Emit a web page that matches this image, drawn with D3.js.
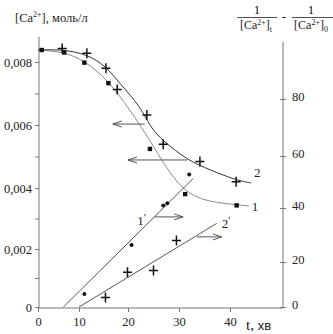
<!DOCTYPE html>
<html><head><meta charset="utf-8">
<script src="https://cdn.jsdelivr.net/npm/d3@7"></script>
<style>body{margin:0;background:#fff}svg{display:block}
.sf{font-family:'Liberation Serif','Times New Roman',serif}</style>
</head><body>
<svg id="c" width="333" height="334"></svg>
<script>
// ---- data ----
const tTicks = [0, 10, 20, 30, 40];
const cTicks = [0, 0.002, 0.004, 0.006, 0.008];
const cMinor = [0.001, 0.003, 0.005, 0.007];
const rTicks = [0, 20, 40, 60, 80];
// curve 1 ([Ca2+], squares)
const s1T = [0.9, 6.4, 11.1, 16.0, 24.3, 31.2, 41.3];
const s1C = [0.00838, 0.0083, 0.00798, 0.00733, 0.00524, 0.0038, 0.00343];
// curve 2 ([Ca2+], crosses)
const s2T = [5.9, 11.6, 15.5, 17.8, 23.7, 26.9, 34.1, 41.2];
const s2C = [0.00843, 0.00828, 0.0078, 0.00713, 0.00632, 0.00539, 0.00484, 0.0042];
// fitted curves
const f1T = [0, 6.3, 11.0, 15.9, 20.4, 24.3, 27.3, 30.6, 33.5, 37.0, 43.7];
const f1C = [0.00838, 0.00832, 0.00806, 0.00743, 0.00648, 0.00552, 0.00468, 0.00398, 0.00368, 0.00352, 0.00341];
const f2T = [0, 5.85, 11.6, 15.5, 18.4, 22.4, 24.3, 26.9, 31.6, 36.1, 41.2, 44.1];
const f2C = [0.00838, 0.0084, 0.00825, 0.00787, 0.0073, 0.0066, 0.00594, 0.00549, 0.00489, 0.00457, 0.00425, 0.00416];
// 1' (dots) and 2' (crosses): 1/[Ca]t - 1/[Ca]0
const p1T = [11.1, 20.7, 26.9, 27.7, 32.0];
const p1V = [5.8, 26.3, 41.0, 41.8, 52.9];
const p2T = [15.4, 19.9, 25.0, 29.5];
const p2V = [4.2, 15.4, 16.2, 28.0];
const l1T = [6.2, 32.8], l1V = [0, 51.4];
const l2T = [10, 37.4], l2V = [0, 34.3];

// ---- scales ----
const svg = d3.select('#c');
const x = d3.scaleLinear().domain([0, 10, 20, 30, 40]).range([38, 79, 128, 179, 230]);
const yL = d3.scaleLinear().domain([0, 0.002, 0.004, 0.006, 0.008]).range([307, 249, 188, 125, 62]);
const yR = d3.scaleLinear().domain([0, 20, 40, 60, 80]).range([307, 262, 208, 156, 99]);
const tEnd = 50.4, cTop = 0.0088, rTop = 100;
const axisCol = '#777';

// ---- axes ----
const gL = svg.append('g').attr('transform', `translate(${x(0) + 1},0)`);
gL.call(d3.axisLeft(yL).tickValues(cTicks).tickSize(4).tickPadding(3)
  .tickFormat(d => d === 0 ? '0' : d3.format('.3f')(d).replace('.', ',')));
gL.append('g').call(d3.axisLeft(yL).tickValues(cMinor).tickSize(4).tickFormat(''));
gL.selectAll('.domain').remove();
gL.append('line').attr('y1', yL(cTop)).attr('y2', yL(0) + 1).attr('stroke', axisCol);

const gB = svg.append('g').attr('transform', `translate(0,${yL(0) + 1})`);
gB.call(d3.axisBottom(x).tickValues(tTicks).tickSize(4).tickPadding(5));
gB.select('.domain').remove();
gB.append('line').attr('x1', x(0) + 1).attr('x2', x(tEnd)).attr('stroke', axisCol);

const gR = svg.append('g').attr('transform', `translate(${x(tEnd)},0)`);
gR.call(d3.axisRight(yR).tickValues(rTicks).tickSize(3).tickPadding(6));
gR.append('g').call(d3.axisLeft(yR).tickValues(rTicks).tickSize(3).tickFormat(''));
gR.selectAll('.domain').remove();
gR.append('line').attr('y1', yR(rTop)).attr('y2', yR(0) + 1).attr('stroke', axisCol);

svg.selectAll('g').attr('font-family', null);
svg.selectAll('.tick line').attr('stroke', axisCol);
svg.selectAll('.tick text').attr('class', 'sf').attr('font-size', 12.5).attr('fill', '#222');
gR.selectAll('.tick text').attr('dy', '0.1em');

// ---- titles ----
const tl = svg.append('text').attr('class', 'sf').attr('x', 15).attr('y', 22).attr('font-size', 12.5).attr('fill', '#222');
tl.append('tspan').text('[Ca');
tl.append('tspan').text('2+').attr('font-size', 8).attr('dy', -5);
tl.append('tspan').text('], моль/л').attr('dy', 5);

function caLabel(cx, cy, sub) {
  const t = svg.append('text').attr('class', 'sf').attr('x', cx).attr('y', cy).attr('text-anchor', 'middle')
    .attr('font-size', 12).attr('fill', '#222');
  t.append('tspan').text('[Ca');
  t.append('tspan').text('2+').attr('font-size', 8).attr('dy', -4.5);
  t.append('tspan').text(']').attr('dy', 4.5);
  t.append('tspan').text(sub).attr('font-size', 8).attr('dy', 2.5);
}
svg.append('text').attr('class', 'sf').attr('x', 257).attr('y', 14).attr('text-anchor', 'middle').attr('font-size', 12).text('1');
svg.append('line').attr('x1', 237).attr('x2', 277).attr('y1', 17.5).attr('y2', 17.5).attr('stroke', '#222').attr('stroke-width', 0.8);
caLabel(256, 29, 't');
svg.append('text').attr('class', 'sf').attr('x', 284).attr('y', 21).attr('text-anchor', 'middle').attr('font-size', 12).text('-');
svg.append('text').attr('class', 'sf').attr('x', 311).attr('y', 14).attr('text-anchor', 'middle').attr('font-size', 12).text('1');
svg.append('line').attr('x1', 292).attr('x2', 333).attr('y1', 17.5).attr('y2', 17.5).attr('stroke', '#222').attr('stroke-width', 0.8);
caLabel(311, 29, '0');

const xt = svg.append('text').attr('x', 246).attr('y', 330).attr('fill', '#222');
xt.append('tspan').text('t, ').attr('class', 'sf').attr('font-size', 15);
xt.append('tspan').text('хв').attr('font-family', '"Liberation Sans",Arial,sans-serif').attr('font-size', 13);

// ---- curves ----
const lineL = d3.line().x(d => x(d[0])).y(d => yL(d[1])).curve(d3.curveBasis);
svg.append('path').attr('d', lineL(d3.zip(f1T, f1C))).attr('fill', 'none').attr('stroke', '#8a8a8a').attr('stroke-width', 1);
svg.append('path').attr('d', lineL(d3.zip(f2T, f2C))).attr('fill', 'none').attr('stroke', '#333').attr('stroke-width', 1);

const lineR = d3.line().x(d => x(d[0])).y(d => yR(d[1]));
svg.append('path').attr('d', lineR(d3.zip(l1T, l1V))).attr('fill', 'none').attr('stroke', '#444').attr('stroke-width', 0.9);
svg.append('path').attr('d', lineR(d3.zip(l2T, l2V))).attr('fill', 'none').attr('stroke', '#444').attr('stroke-width', 0.9);

// ---- markers ----
function cross(px, py) {
  svg.append('path').attr('d', `M${px - 4.5},${py}H${px + 4.5}M${px},${py - 5}V${py + 5}`)
    .attr('stroke', '#111').attr('stroke-width', 1.5);
}
s1T.forEach((t, i) => svg.append('rect').attr('x', x(t) - 2.2).attr('y', yL(s1C[i]) - 2.2).attr('width', 4.4).attr('height', 4.4).attr('fill', '#111'));
s2T.forEach((t, i) => cross(x(t), yL(s2C[i])));
p1T.forEach((t, i) => svg.append('circle').attr('cx', x(t)).attr('cy', yR(p1V[i])).attr('r', 2).attr('fill', '#111'));
p2T.forEach((t, i) => cross(x(t), yR(p2V[i])));

// ---- arrows ----
function arrow(x1, x2, py) {
  const dir = x2 > x1 ? 1 : -1;
  svg.append('path').attr('d', `M${x1},${py}H${x2}M${x2 - dir * 9},${py - 3}L${x2},${py}L${x2 - dir * 9},${py + 3}`)
    .attr('fill', 'none').attr('stroke', '#555').attr('stroke-width', 1);
}
arrow(x(23.3), x(16.9), yL(0.00603));
arrow(x(31.6), x(20.0), yL(0.00489));
arrow(x(25.2), x(30.8), yR(36.7));
arrow(x(33.5), x(38.4), yR(29.3));

// ---- curve labels ----
function lab(px, py, txt, prime) {
  const t = svg.append('text').attr('class', 'sf').attr('x', px).attr('y', py).attr('font-size', 13).attr('fill', '#222').text(txt);
  if (prime) t.append('tspan').text('′').attr('font-size', 11).attr('dy', -4);
}
lab(x(f1T[f1T.length - 1]) + 3, yL(f1C[f1C.length - 1]) + 5, '1');
lab(x(f2T[f2T.length - 1]) + 3, yL(f2C[f2C.length - 1]) - 6, '2');
lab(x(l1T[1]) - 56, yR(l1V[1]) + 47, '1', true);
lab(x(l2T[1]) + 5, yR(l2V[1]) + 5, '2', true);
</script>
</body></html>
